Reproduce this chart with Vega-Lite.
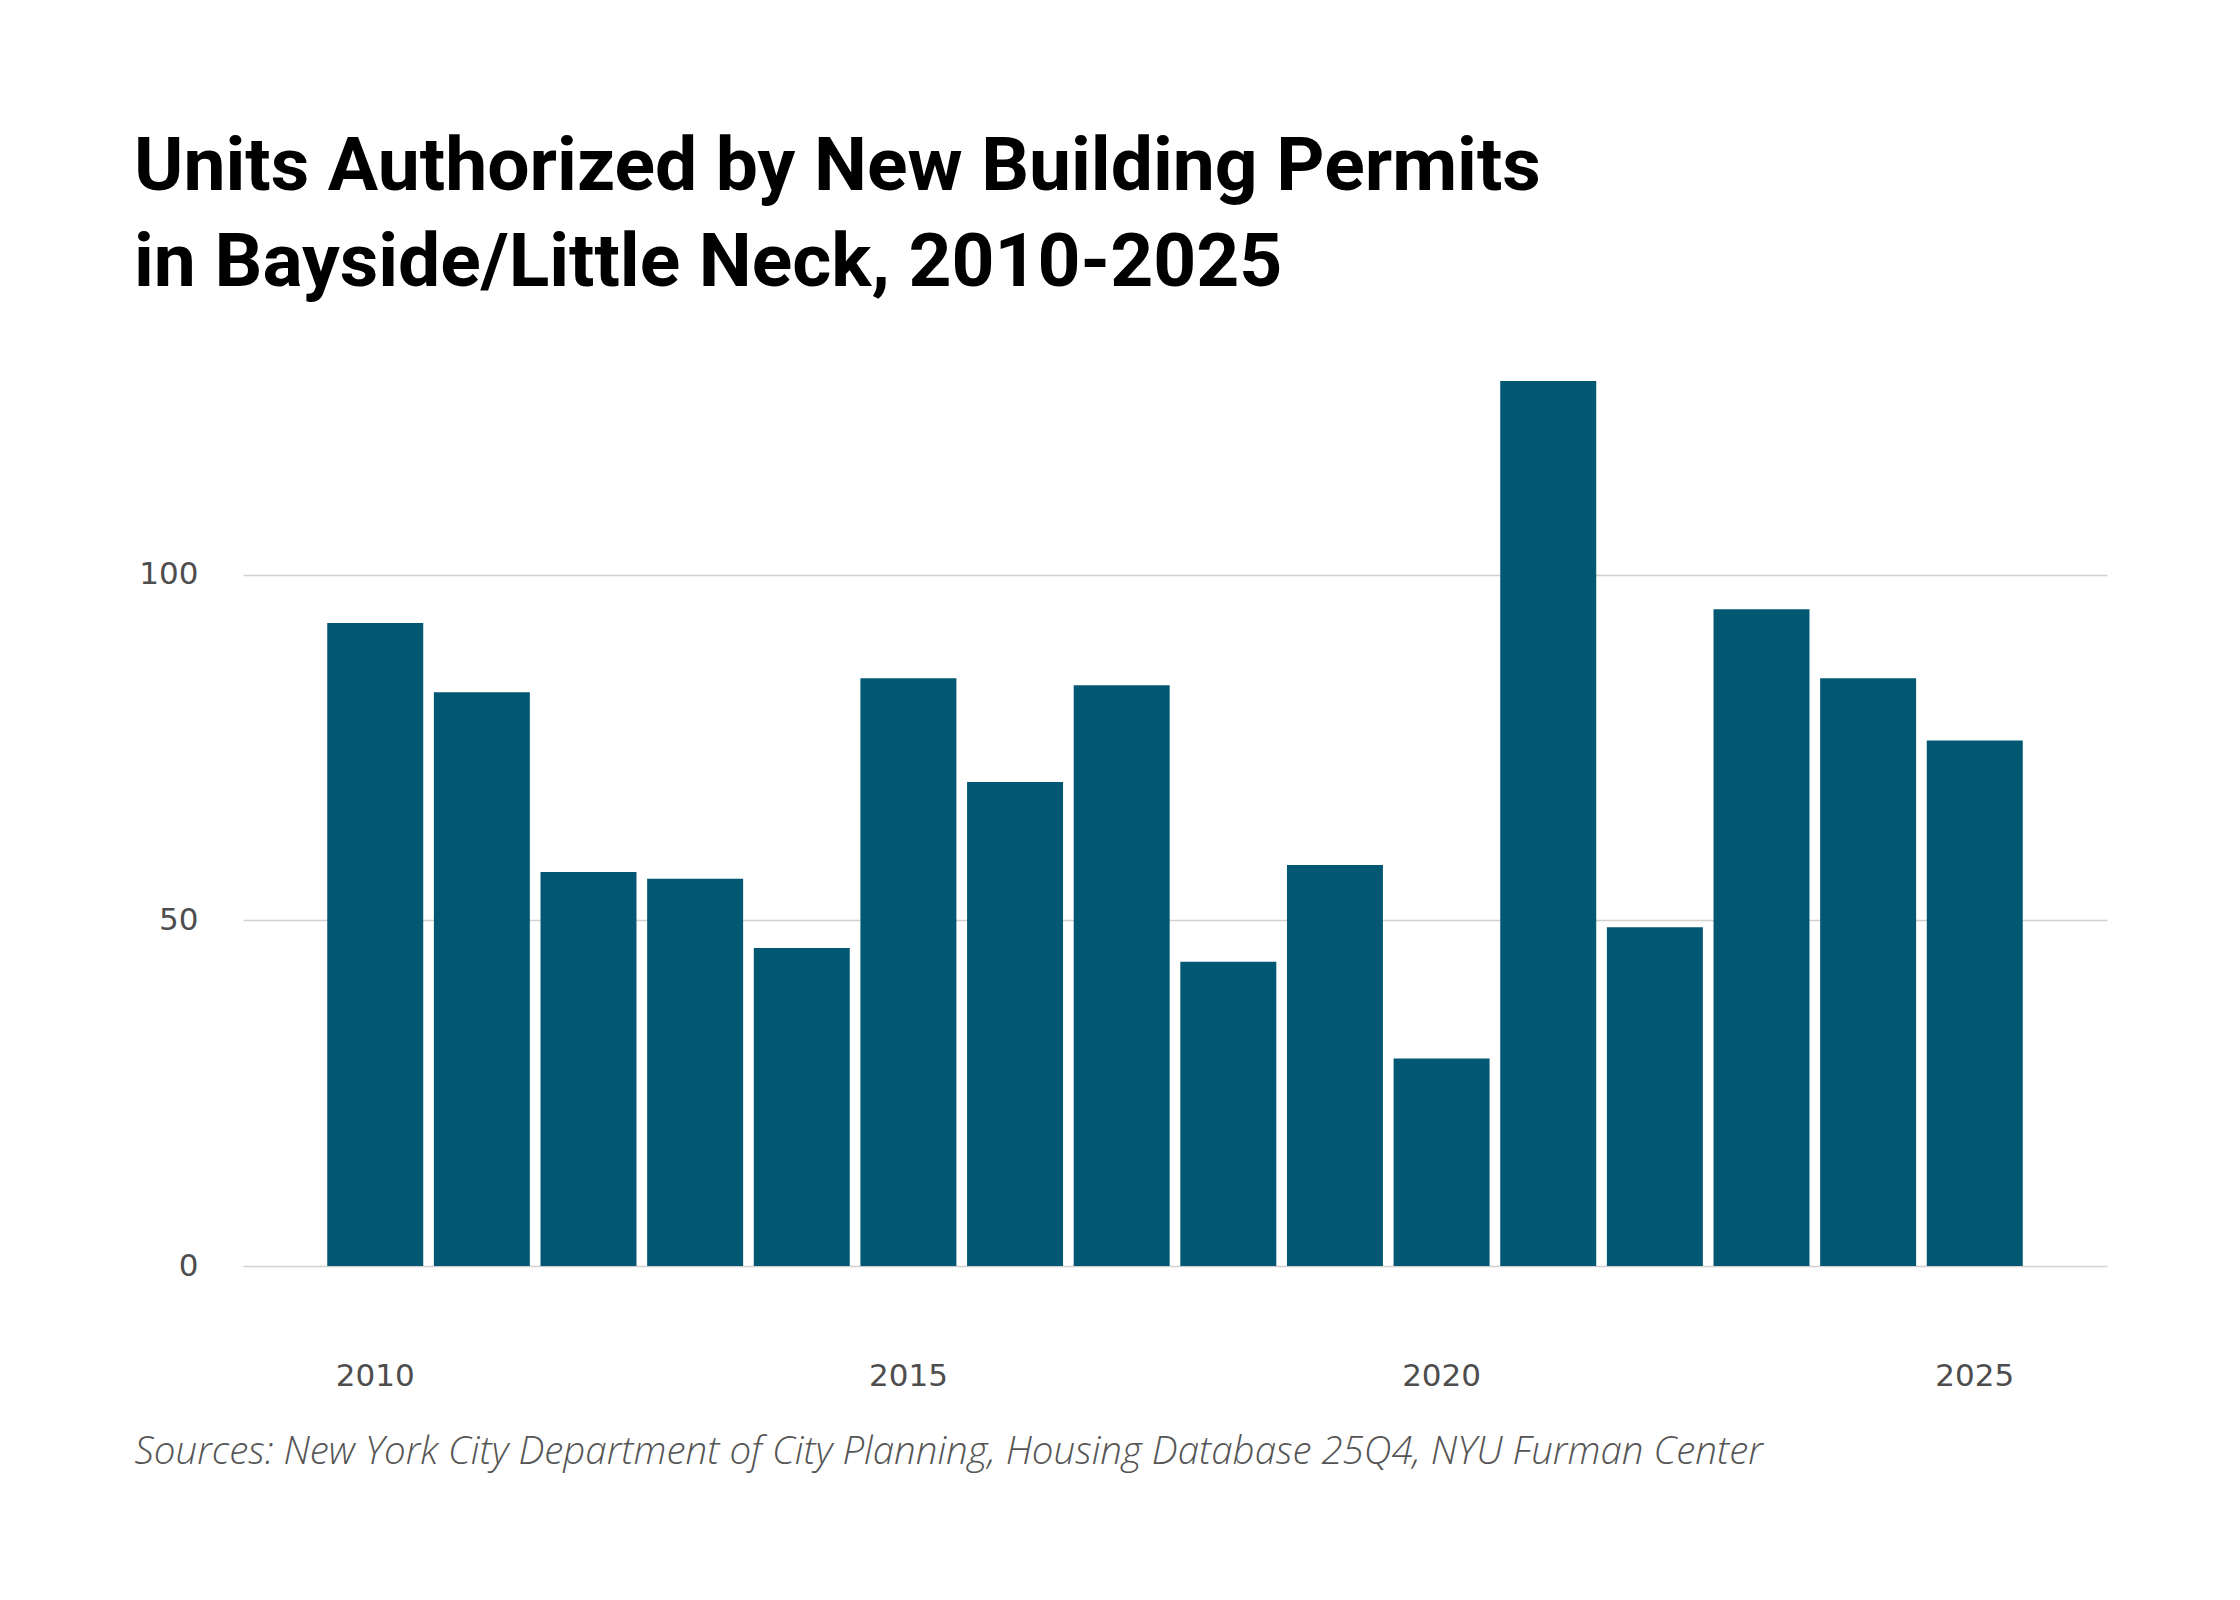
{
  "$schema": "https://vega.github.io/schema/vega-lite/v6.json",
  "autosize": {"type": "none"},
  "width": 1864,
  "height": 885,
  "padding": {"left": 243, "top": 381, "right": 133, "bottom": 334},
  "background": "#ffffff",
  "title": {
    "text": ["Units Authorized by New Building Permits", "in Bayside/Little Neck, 2010-2025"],
    "anchor": "start",
    "frame": "group",
    "orient": "top",
    "baseline": "alphabetic",
    "offset": 20,
    "dx": -109,
    "font": "Roboto",
    "fontSize": 75,
    "fontWeight": "bold",
    "lineHeight": 96,
    "color": "#000000"
  },
  "data": {
    "values": [
      {"year": 2010, "units": 93},
      {"year": 2011, "units": 83},
      {"year": 2012, "units": 57},
      {"year": 2013, "units": 56},
      {"year": 2014, "units": 46},
      {"year": 2015, "units": 85},
      {"year": 2016, "units": 70},
      {"year": 2017, "units": 84},
      {"year": 2018, "units": 44},
      {"year": 2019, "units": 58},
      {"year": 2020, "units": 30},
      {"year": 2021, "units": 128},
      {"year": 2022, "units": 49},
      {"year": 2023, "units": 95},
      {"year": 2024, "units": 85},
      {"year": 2025, "units": 76}
    ]
  },
  "mark": {"type": "bar", "color": "#025872"},
  "encoding": {
    "x": {
      "field": "year",
      "type": "ordinal",
      "sort": "ascending",
      "scale": {"paddingInner": 0.1, "paddingOuter": 0.79},
      "axis": {
        "values": [2010, 2015, 2020, 2025],
        "labelAngle": 0,
        "domain": false,
        "ticks": false,
        "grid": false,
        "labelPadding": 95,
        "labelFont": "DejaVu Sans",
        "labelFontSize": 31,
        "labelColor": "#4d4d4d",
        "title": "Sources: New York City Department of City Planning, Housing Database 25Q4, NYU Furman Center",
        "titleAnchor": "start",
        "titleAlign": "left",
        "titleBaseline": "alphabetic",
        "titleX": -109,
        "titleY": 197,
        "titleFont": "Open Sans",
        "titleFontStyle": "italic",
        "titleFontWeight": 300,
        "titleFontSize": 38.5,
        "titleColor": "#555555"
      }
    },
    "y": {
      "field": "units",
      "type": "quantitative",
      "scale": {"domain": [0, 128], "nice": false},
      "axis": {
        "values": [0, 50, 100],
        "domain": false,
        "ticks": false,
        "grid": true,
        "gridColor": "#d0d0d0",
        "gridWidth": 1.5,
        "labelPadding": 45,
        "labelFont": "DejaVu Sans",
        "labelFontSize": 31,
        "labelColor": "#4d4d4d",
        "title": null
      }
    }
  },
  "config": {
    "view": {"stroke": null}
  }
}
